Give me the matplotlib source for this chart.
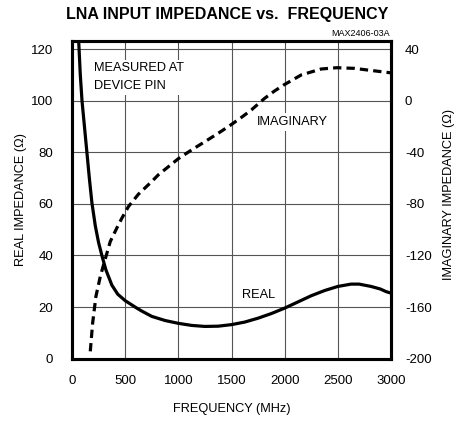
import matplotlib
matplotlib.use('Agg')
import matplotlib.pyplot as plt

plt.rcParams['font.family'] = ['Liberation Sans', 'DejaVu Sans']
plt.rcParams['axes.unicode_minus'] = False

# real part (MHz, ohms)
real_freq = [55, 63, 78, 94, 117, 140, 163, 187, 219, 250, 281, 319, 375, 430, 500,
             594, 650, 750, 875, 1000, 1125, 1250, 1375, 1500, 1625, 1750, 1875,
             2000, 2125, 2250, 2375, 2500, 2625, 2700, 2812, 2900, 2953, 3000]
real_ohm = [130, 123, 110, 100, 90, 80, 70, 60.5, 51.5, 45, 40, 34.4, 28.5, 25, 22.5,
            20, 18.6, 16.4, 14.8, 13.7, 12.9, 12.5, 12.6, 13.2, 14.2, 15.7, 17.5,
            19.6, 22, 24.4, 26.4, 28, 28.9, 28.9, 28, 27, 26, 25.4]

# imaginary part (right axis)
imag_freq = [172, 194, 225, 266, 297, 360, 420, 469, 531, 625, 750, 812, 1000, 1125,
             1250, 1375, 1494, 1600, 1687, 1812, 1900, 1991, 2156, 2343, 2490, 2656,
             2781, 2952, 3000]
imag_ohm = [-194.3, -172.4, -151.7, -136.3, -127.2, -109.2, -99, -91.1, -82.1, -72.5,
            -62.7, -57.5, -45, -38.2, -31.8, -25.3, -18.8, -12.6, -7.2, 1.8, 7.2, 12.1,
            19.9, 24.5, 25.5, 25, 23.7, 22, 21.5]

x_ticks = [0, 500, 1000, 1500, 2000, 2500, 3000]
left_ticks = [0, 20, 40, 60, 80, 100, 120]
right_ticks = [-200, -160, -120, -80, -40, 0, 40]

fig = plt.figure(figsize=(4.66, 4.22), dpi=100)
ax = fig.add_axes([72 / 466, 1 - 358.7 / 422, 319 / 466, 317.7 / 422])
ax2 = ax.twinx()

ax.set_xlim(0, 3000)
ax.set_ylim(0, 123.1)
ax2.set_ylim(-200, 46.2)

ax.set_xticks(x_ticks)
ax.set_yticks(left_ticks)
ax2.set_yticks(right_ticks)
ax.grid(True, color='#555555', linewidth=0.8)
ax.set_axisbelow(True)

ax.tick_params(axis='x', length=0, pad=12, labelsize=9.5)
ax.tick_params(axis='y', length=0, pad=13.5, labelsize=9.5)
ax2.tick_params(axis='y', length=0, pad=10, labelsize=9.5)
for a in (ax, ax2):
    for s in a.spines.values():
        s.set_linewidth(2.2)

ax.plot(real_freq, real_ohm, color='black', linewidth=2.3, zorder=4,
        solid_joinstyle='round')
ax2.plot(imag_freq, imag_ohm, color='black', linewidth=2.3,
         linestyle=(0, (2.6, 1.6)), dash_capstyle='butt', zorder=4)

box = dict(facecolor='white', edgecolor='none', pad=2)
ax.text(203, 109, 'MEASURED AT\nDEVICE PIN', fontsize=9.2, ha='left', va='center',
        linespacing=1.67, bbox=box, zorder=3)
ax.text(1743, 91.6, 'IMAGINARY', fontsize=9.2, ha='left', va='center', bbox=box, zorder=3)
ax.text(1603, 24.7, 'REAL', fontsize=9.2, ha='left', va='center', bbox=box, zorder=3)

fig.text(227.5 / 466, 1 - 15 / 422, 'LNA INPUT IMPEDANCE vs.  FREQUENCY',
         fontsize=11.5, fontweight='bold', ha='center', va='center')
fig.text(390 / 466, 1 - 33 / 422, 'MAX2406-03A', fontsize=6.5, ha='right', va='center')
fig.text(231.5 / 466, 1 - 409 / 422, 'FREQUENCY (MHz)', fontsize=9.2, ha='center', va='center')
fig.text(21 / 466, 1 - 200 / 422, 'REAL IMPEDANCE (Ω)', fontsize=9.2, rotation=90,
         ha='center', va='center')
fig.text(449 / 466, 1 - 194 / 422, 'IMAGINARY IMPEDANCE (Ω)', fontsize=9.2, rotation=90,
         ha='center', va='center')

fig.savefig('out.png', dpi=100)
